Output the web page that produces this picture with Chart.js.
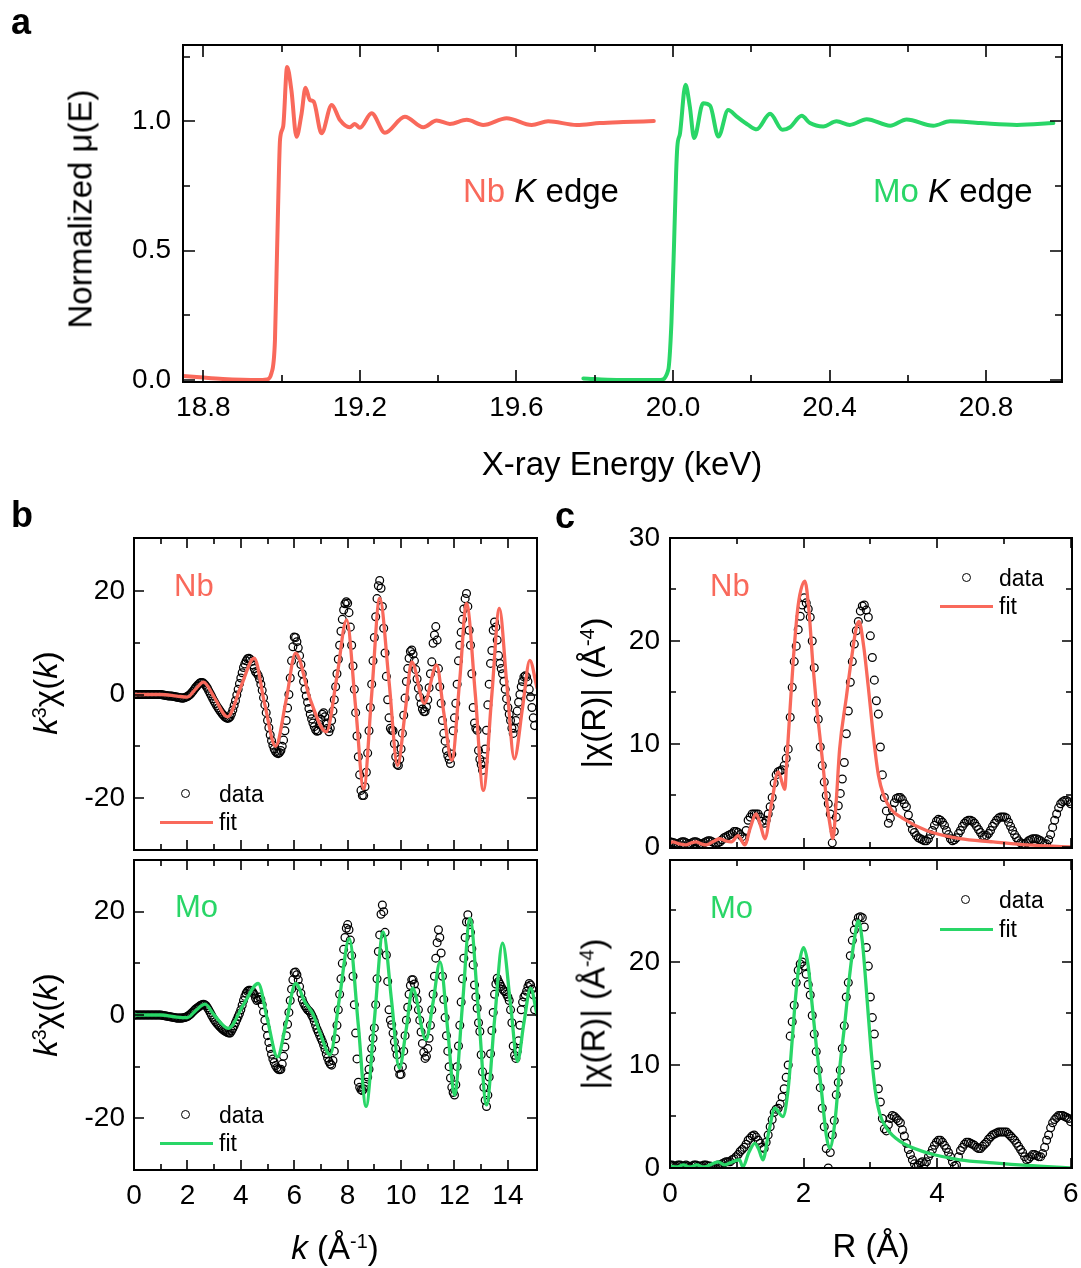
<!DOCTYPE html>
<html>
<head>
<meta charset="utf-8">
<script src="https://cdn.jsdelivr.net/npm/chart.js@4.4.1/dist/chart.umd.min.js"></script>
<style>
body { margin: 0; background: #fff; }
#fig { position: relative; width: 1081px; height: 1268px; overflow: hidden;
       font-family: "Liberation Sans", Arial, sans-serif; color: #000; }
canvas { position: absolute; }
.t { position: absolute; white-space: nowrap; line-height: 1; transform: translate(-50%, -50%); }
.l { position: absolute; white-space: nowrap; line-height: 1; transform: translate(0, -50%); }
.rot { transform: translate(-50%, -50%) rotate(-90deg); }
.pl { font-weight: bold; font-size: 36px; }
.ttl { font-size: 33px; }
.sp { font-size: 0.6em; position: relative; top: -0.55em; }
.el { font-size: 31px; }
.lg { font-size: 23px; }
.dot { position: absolute; width: 7px; height: 7px; border: 1.3px solid #000; border-radius: 50%; }
.ln { position: absolute; height: 3px; }
</style>
</head>
<body>
<div id="fig">
  <canvas id="cA" width="1081" height="500" style="left:0;top:0"></canvas>
  <canvas id="cB1" width="500" height="340" style="left:60px;top:520px"></canvas>
  <canvas id="cB2" width="500" height="418" style="left:60px;top:850px"></canvas>
  <canvas id="cC1" width="491" height="340" style="left:590px;top:520px"></canvas>
  <canvas id="cC2" width="491" height="418" style="left:590px;top:850px"></canvas>

  <!-- panel letters -->
  <div class="l pl" style="left:11px;top:22px">a</div>
  <div class="l pl" style="left:11px;top:515px">b</div>
  <div class="l pl" style="left:555px;top:516px">c</div>

  <!-- panel a texts -->
  <div class="t rot ttl" style="left:80px;top:209px">Normalized μ(E)</div>
  <div class="t ttl" style="left:622px;top:463px">X-ray Energy (keV)</div>
  <div class="l ttl" style="left:463px;top:190px"><span class="red">Nb</span> <i>K</i> edge</div>
  <div class="l ttl" style="left:873px;top:190px"><span class="green">Mo</span> <i>K</i> edge</div>

  <!-- panel b texts -->
  <div class="t rot ttl" style="left:45px;top:693px"><i>k</i><span class="sp">3</span>χ(<i>k</i>)</div>
  <div class="t rot ttl" style="left:45px;top:1015px"><i>k</i><span class="sp">3</span>χ(<i>k</i>)</div>
  <div class="t ttl" style="left:335px;top:1247px"><i>k</i> (Å<span class="sp">-1</span>)</div>
  <div class="l el red" style="left:174px;top:585px">Nb</div>
  <div class="l el green" style="left:175px;top:906px">Mo</div>
  <div class="dot" style="left:181px;top:789px"></div>
  <div class="l lg" style="left:219px;top:794px">data</div>
  <div class="ln redbg" style="left:160px;top:821px;width:53px"></div>
  <div class="l lg" style="left:219px;top:822px">fit</div>
  <div class="dot" style="left:181px;top:1110px"></div>
  <div class="l lg" style="left:219px;top:1115px">data</div>
  <div class="ln greenbg" style="left:160px;top:1142px;width:53px"></div>
  <div class="l lg" style="left:219px;top:1143px">fit</div>

  <!-- panel c texts -->
  <div class="t rot ttl" style="left:593px;top:693px">|χ(R)| (Å<span class="sp">-4</span>)</div>
  <div class="t rot ttl" style="left:593px;top:1014px">|χ(R)| (Å<span class="sp">-4</span>)</div>
  <div class="t ttl" style="left:871px;top:1245px">R (Å)</div>
  <div class="l el red" style="left:710px;top:585px">Nb</div>
  <div class="l el green" style="left:710px;top:907px">Mo</div>
  <div class="dot" style="left:962px;top:573px"></div>
  <div class="l lg" style="left:999px;top:578px">data</div>
  <div class="ln redbg" style="left:940px;top:605px;width:53px"></div>
  <div class="l lg" style="left:999px;top:606px">fit</div>
  <div class="dot" style="left:961px;top:895px"></div>
  <div class="l lg" style="left:999px;top:900px">data</div>
  <div class="ln greenbg" style="left:940px;top:928px;width:53px"></div>
  <div class="l lg" style="left:999px;top:929px">fit</div>
</div>

<script>
const RED = '#F9695B';
const GREEN = '#29D667';
document.querySelectorAll('.red').forEach(e => e.style.color = RED);
document.querySelectorAll('.green').forEach(e => e.style.color = GREEN);
document.querySelectorAll('.redbg').forEach(e => e.style.background = RED);
document.querySelectorAll('.greenbg').forEach(e => e.style.background = GREEN);

// ---- panel a: normalized absorption (energy in keV) ----
const nbE = [18.748, 18.80, 18.85, 18.90, 18.94, 18.962, 18.974, 18.983, 18.987, 18.991, 18.996, 19.004,
  19.014, 19.025, 19.038, 19.051, 19.061, 19.072, 19.082, 19.102, 19.128, 19.149, 19.174, 19.187, 19.200,
  19.230, 19.264, 19.315, 19.362, 19.396, 19.430, 19.473, 19.515, 19.575, 19.639, 19.681, 19.754, 19.813,
  19.873, 19.951];
const nbMu = [0.015, 0.009, 0.004, 0.001, 0.0, 0.002, 0.026, 0.155, 0.41, 0.67, 0.93, 0.98,
  1.21, 1.12, 0.94, 1.03, 1.13, 1.083, 1.076, 0.954, 1.063, 1.005, 0.977, 0.99, 0.975,
  1.031, 0.956, 1.018, 0.977, 1.003, 0.990, 1.006, 0.986, 1.012, 0.986, 1.0, 0.986, 0.993,
  0.997, 1.001];
const moE = [19.771, 19.856, 19.940, 19.967, 19.988, 19.996, 20.003, 20.008, 20.011, 20.018, 20.032, 20.043,
  20.054, 20.077, 20.095, 20.116, 20.141, 20.163, 20.192, 20.214, 20.248, 20.280, 20.299, 20.329, 20.350,
  20.384, 20.418, 20.452, 20.495, 20.555, 20.597, 20.665, 20.708, 20.785, 20.879, 20.972];
const moMu = [0.006, 0.0, 0.0, 0.0, 0.039, 0.22, 0.54, 0.80, 0.90, 0.954, 1.141, 1.057,
  0.935, 1.07, 1.06, 0.941, 1.044, 1.018, 0.986, 0.969, 1.029, 0.967, 0.977, 1.021, 0.993,
  0.98, 1.0, 0.986, 1.008, 0.983, 1.007, 0.983, 1.0, 0.993, 0.986, 0.993];

// ---- panel b: k^3 chi(k), data on a 0.05 grid ----
const kData = [
  0,0.05,0.1,0.15,0.2,0.25,0.3,0.35,0.4,0.45,0.5,0.55,0.6,0.65,0.7,0.75,0.8,0.85,0.9,0.95,
  1,1.05,1.1,1.15,1.2,1.25,1.3,1.35,1.4,1.45,1.5,1.55,1.6,1.65,1.7,1.75,1.8,1.85,1.9,1.95,
  2,2.05,2.1,2.15,2.2,2.25,2.3,2.35,2.4,2.45,2.5,2.55,2.6,2.65,2.7,2.75,2.8,2.85,2.9,2.95,
  3,3.05,3.1,3.15,3.2,3.25,3.3,3.35,3.4,3.45,3.5,3.55,3.6,3.65,3.7,3.75,3.8,3.85,3.9,3.95,
  4,4.05,4.1,4.15,4.2,4.25,4.3,4.35,4.4,4.45,4.5,4.55,4.6,4.65,4.7,4.75,4.8,4.85,4.9,4.95,
  5,5.05,5.1,5.15,5.2,5.25,5.3,5.35,5.4,5.45,5.5,5.55,5.6,5.65,5.7,5.75,5.8,5.85,5.9,5.95,
  6,6.05,6.1,6.15,6.2,6.25,6.3,6.35,6.4,6.45,6.5,6.55,6.6,6.65,6.7,6.75,6.8,6.85,6.9,6.95,
  7,7.05,7.1,7.15,7.2,7.25,7.3,7.35,7.4,7.45,7.5,7.55,7.6,7.65,7.7,7.75,7.8,7.85,7.9,7.95,
  8,8.05,8.1,8.15,8.2,8.25,8.3,8.35,8.4,8.45,8.5,8.55,8.6,8.65,8.7,8.75,8.8,8.85,8.9,8.95,
  9,9.05,9.1,9.15,9.2,9.25,9.3,9.35,9.4,9.45,9.5,9.55,9.6,9.65,9.7,9.75,9.8,9.85,9.9,9.95,
  10,10.05,10.1,10.15,10.2,10.25,10.3,10.35,10.4,10.45,10.5,10.55,10.6,10.65,10.7,10.75,10.8,10.85,10.9,10.95,
  11,11.05,11.1,11.15,11.2,11.25,11.3,11.35,11.4,11.45,11.5,11.55,11.6,11.65,11.7,11.75,11.8,11.85,11.9,11.95,
  12,12.05,12.1,12.15,12.2,12.25,12.3,12.35,12.4,12.45,12.5,12.55,12.6,12.65,12.7,12.75,12.8,12.85,12.9,12.95,
  13,13.05,13.1,13.15,13.2,13.25,13.3,13.35,13.4,13.45,13.5,13.55,13.6,13.65,13.7,13.75,13.8,13.85,13.9,13.95,
  14,14.05,14.1,14.15,14.2,14.25,14.3,14.35,14.4,14.45,14.5,14.55,14.6,14.65,14.7,14.75,14.8,14.85,14.9,14.95,
  15];
const nbChi = [
  0,0,0,0,0,0,0,0,0,0,0,0,0,0,0,0,0,0,0,0,
  0,-0.05,-0.1,-0.15,-0.2,-0.25,-0.3,-0.3,-0.3,-0.35,-0.4,-0.45,-0.5,-0.55,-0.6,-0.65,-0.7,-0.7,-0.6,-0.5,
  -0.4,-0.2,0.0,0.3,0.6,0.95,1.3,1.6,1.9,2.15,2.3,2.3,2.2,1.95,1.6,1.2,0.7,0.2,-0.3,-0.8,
  -1.3,-1.75,-2.2,-2.6,-3.0,-3.35,-3.7,-4.0,-4.3,-4.5,-4.6,-4.55,-4.3,-3.7,-3.0,-2.1,-1.2,-0.1,1.0,2.1,
  3.2,4.2,5.2,5.9,6.5,6.9,7.0,6.8,6.4,5.7,5.0,4.4,4.1,3.7,3.0,2.0,0.8,-0.6,-2.0,-3.5,
  -5.0,-6.4,-7.8,-8.9,-9.8,-10.5,-11.0,-11.3,-11.4,-11.2,-10.8,-10.0,-8.8,-7.0,-5.0,-2.6,0.0,3.2,6.5,9.2,
  11.1,11.0,10.2,9.0,7.5,5.8,4.0,2.5,1.0,-0.3,-1.5,-2.7,-3.8,-4.7,-5.5,-6.2,-6.8,-7.1,-7.0,-5.8,
  -4.8,-3.8,-3.5,-4.3,-5.5,-6.5,-7.2,-6.5,-5.0,-3.2,-1.0,1.5,4.0,6.8,9.5,12.2,14.5,16.3,17.5,17.9,
  17.6,15.8,13.0,9.5,5.5,1.0,-3.5,-8.0,-12.0,-15.5,-18.5,-19.5,-19.5,-17.8,-15.0,-11.3,-7.0,-2.5,2.0,6.5,
  11.0,15.0,18.5,21.0,22.0,20.5,17.0,12.8,8.0,3.5,-1.0,-4.5,-6.5,-6.9,-7.0,-9.5,-12.0,-13.5,-13.7,-12.5,
  -10.5,-7.5,-4.0,-0.7,2.5,5.0,7.0,8.3,8.6,7.8,6.5,4.8,3.0,1.2,-0.5,-1.8,-2.8,-3.3,-3.3,-2.4,
  -1.0,1.3,4.0,6.3,9.9,11.5,13.1,10.5,5.0,1.5,-1.7,-5.0,-7.5,-9.0,-10.8,-11.8,-12.5,-13.3,-11.5,-7.0,
  -4.5,-1.7,2.0,6.5,9.5,12.0,14.5,16.5,18.5,19.5,17.0,12.4,9.5,4.0,-2.5,-5.5,-6.5,-6.9,-10.8,-12.5,
  -13.5,-14.6,-13.0,-10.5,-6.9,-2.0,2.0,6.0,8.5,12.4,14.0,13.0,10.5,7.5,6.0,5.0,4.0,2.5,1.0,-0.8,
  -2.5,-3.8,-5.0,-6.5,-7.5,-6.5,-5.0,-3.2,-1.5,0.0,1.5,2.5,3.4,3.6,3.4,2.5,1.0,-0.5,-2.5,-4.5,
  -6.0];
const moChi = [
  0,0,0,0,0,0,0,0,0,0,0,0,0,0,0,0,0,0,0,0,
  0,-0.05,-0.1,-0.15,-0.2,-0.25,-0.3,-0.35,-0.4,-0.45,-0.5,-0.55,-0.6,-0.6,-0.6,-0.6,-0.6,-0.55,-0.5,-0.4,
  -0.3,-0.1,0.1,0.35,0.6,0.85,1.1,1.3,1.5,1.7,1.9,2.0,2.1,2.0,1.8,1.4,1.0,0.5,0.0,-0.45,
  -0.9,-1.25,-1.6,-1.9,-2.2,-2.45,-2.7,-2.9,-3.1,-3.25,-3.4,-3.5,-3.5,-3.1,-2.6,-2.1,-1.5,-0.9,-0.3,0.3,
  1.0,1.9,2.8,3.6,4.2,4.6,4.8,4.8,4.7,4.4,4.0,3.3,2.8,3.0,3.5,3.0,2.0,0.6,-1.0,-2.5,
  -4.0,-5.3,-6.5,-7.6,-8.5,-9.2,-9.8,-10.2,-10.5,-10.6,-10.5,-9.5,-8.0,-6.2,-4.0,-1.8,0.5,2.8,5.0,6.8,
  8.2,8.3,7.8,6.8,5.5,4.2,3.0,2.3,1.8,1.4,1.0,0.8,0.5,0.0,-0.5,-1.2,-2.0,-2.7,-3.3,-3.9,
  -4.5,-5.1,-5.8,-6.6,-7.5,-8.3,-9.0,-9.5,-9.7,-8.8,-7.0,-4.6,-2.0,1.0,4.0,7.0,10.0,12.7,15.0,16.8,
  17.5,16.5,14.5,11.5,7.5,2.0,-3.5,-8.5,-13.0,-14.0,-14.5,-14.6,-14.3,-13.8,-13.0,-12.0,-10.5,-8.5,-6.5,-4.5,
  -2.5,2.0,7.0,12.3,15.5,19.5,21.3,20.0,16.0,11.6,6.5,1.0,-1.0,-1.9,-3.5,-5.2,-6.5,-7.7,-10.3,-11.5,
  -11.5,-10.0,-7.0,-4.0,-1.0,1.5,4.0,5.7,6.8,6.8,6.0,4.6,3.0,1.0,-1.0,-3.3,-5.5,-7.2,-8.4,-8.0,
  -6.5,-4.5,-2.0,1.0,4.0,7.5,11.0,14.0,16.5,15.0,12.0,7.5,3.0,-0.5,-4.0,-7.0,-10.0,-12.2,-14.0,-15.0,
  -15.5,-13.5,-10.0,-6.0,-2.0,2.5,7.0,11.0,15.0,18.0,19.4,18.0,16.0,12.8,9.7,5.8,3.5,1.3,-1.5,-3.2,
  -7.7,-11.0,-14.0,-16.5,-17.7,-15.5,-12.0,-7.5,-3.0,0.5,4.0,6.0,7.1,6.5,6.0,5.5,5.0,4.7,4.5,4.0,
  3.5,2.8,1.0,-1.5,-6.0,-7.8,-8.4,-7.0,-5.0,-2.0,1.0,2.5,3.5,3.9,4.6,5.5,6.1,5.8,5.0,3.9,
  1.0];
const nbFitK = [0,1.0,1.6,2.0,2.3,2.6,3.0,3.5,4.0,4.5,4.9,5.3,5.7,6.05,6.6,7.2,7.6,7.96,8.3,8.6,8.9,9.2,
  9.55,9.87,10.15,10.4,10.87,11.33,11.6,11.9,12.2,12.45,12.78,13.08,13.4,13.68,13.96,14.24,14.55,14.82,15.09];
const nbFitChi = [0,0,-0.3,-0.5,1.0,2.4,-0.5,-4.3,1.5,7.0,-2.0,-10.0,-1.0,8.0,-1.0,-7.2,3.5,14.4,-2.5,-18.2,0,18.6,
  2.5,-13.7,-3.5,6.3,-1.7,5.7,-3.5,-12.7,3.0,17.6,0,-18.5,0,16.6,2.0,-12.4,-2.5,6.6,1.3];
const moFitK = [0,1.0,1.6,2.0,2.3,2.66,3.0,3.53,4.1,4.65,5.0,5.37,5.7,6.05,6.4,6.7,6.95,7.34,7.7,8.06,8.4,8.69,
  9.0,9.33,9.65,9.93,10.2,10.43,10.93,11.2,11.46,11.75,12.0,12.3,12.58,12.9,13.2,13.5,13.8,14.1,14.36,14.6,14.85,15.09];
const moFitChi = [0,0,-0.4,-0.5,0.8,2.1,0.0,-2.6,2.0,6.1,-1.0,-8.1,-1.5,6.1,2.5,0.2,-3.2,-7.7,3.5,14.8,-2.0,-17.7,
  -1.0,16.1,2.5,-10.3,-2.5,5.2,-4.8,2.5,10.3,-3.0,-15.5,2.0,18.7,0.5,-17.4,-1.0,13.9,2.0,-9.0,-1.5,5.2,0.0];

// ---- panel c: |chi(R)|, data on a 0.03 grid ----
const rData = [
  0,0.03,0.06,0.09,0.12,0.15,0.18,0.21,0.24,0.27, 0.3,0.33,0.36,0.39,0.42,0.45,0.48,0.51,0.54,0.57,
  0.6,0.63,0.66,0.69,0.72,0.75,0.78,0.81,0.84,0.87, 0.9,0.93,0.96,0.99,1.02,1.05,1.08,1.11,1.14,1.17,
  1.2,1.23,1.26,1.29,1.32,1.35,1.38,1.41,1.44,1.47, 1.5,1.53,1.56,1.59,1.62,1.65,1.68,1.71,1.74,1.77,
  1.8,1.83,1.86,1.89,1.92,1.95,1.98,2.01,2.04,2.07, 2.1,2.13,2.16,2.19,2.22,2.25,2.28,2.31,2.34,2.37,
  2.4,2.43,2.46,2.49,2.52,2.55,2.58,2.61,2.64,2.67, 2.7,2.73,2.76,2.79,2.82,2.85,2.88,2.91,2.94,2.97,
  3,3.03,3.06,3.09,3.12,3.15,3.18,3.21,3.24,3.27, 3.3,3.33,3.36,3.39,3.42,3.45,3.48,3.51,3.54,3.57,
  3.6,3.63,3.66,3.69,3.72,3.75,3.78,3.81,3.84,3.87, 3.9,3.93,3.96,3.99,4.02,4.05,4.08,4.11,4.14,4.17,
  4.2,4.23,4.26,4.29,4.32,4.35,4.38,4.41,4.44,4.47, 4.5,4.53,4.56,4.59,4.62,4.65,4.68,4.71,4.74,4.77,
  4.8,4.83,4.86,4.89,4.92,4.95,4.98,5.01,5.04,5.07, 5.1,5.13,5.16,5.19,5.22,5.25,5.28,5.31,5.34,5.37,
  5.4,5.43,5.46,5.49,5.52,5.55,5.58,5.61,5.64,5.67, 5.7,5.73,5.76,5.79,5.82,5.85,5.88,5.91,5.94,5.97,
  6];
const nbChiR = [
  0.5,0.45,0.4,0.3,0.3,0.4,0.5,0.5,0.4,0.3, 0.3,0.4,0.5,0.5,0.4,0.3,0.3,0.4,0.5,0.6,
  0.6,0.5,0.4,0.3,0.4,0.5,0.7,0.9,1.0,1.1, 1.2,1.3,1.5,1.5,1.4,1.2,1.0,0.8,1.6,2.6,
  2.9,3.2,3.2,3.2,3.2,2.9,2.5,2.3,2.6,3.2, 3.9,4.8,6.2,7.0,7.3,7.4,7.5,7.9,8.6,9.5,
  12.6,15.5,18.0,19.5,21.1,22.4,23.5,24.2,23.7,23.1, 22.3,20.0,17.4,14.0,12.4,9.7,7.9,6.3,5.0,4.2,
  3.2,0.4,1.5,2.9,4.0,5.2,6.6,8.2,11.0,13.2, 16.0,18.0,19.7,21.0,21.9,22.9,23.4,23.5,23.0,22.3,
  20.5,18.4,16.2,14.2,12.9,9.7,7.0,4.8,3.5,2.3, 2.8,3.6,4.3,4.7,4.8,4.8,4.6,4.2,3.9,3.1,
  2.3,1.7,1.4,1.1,0.9,0.8,0.7,0.6,0.6,0.8, 1.2,1.6,2.1,2.5,2.7,2.6,2.4,2.1,1.6,1.2,
  0.8,0.6,0.7,0.9,1.3,1.6,2.0,2.3,2.5,2.6, 2.6,2.5,2.3,2.0,1.7,1.4,1.1,1.0,1.1,1.3,
  1.6,2.0,2.3,2.6,2.8,2.9,2.9,2.9,2.8,2.4, 2.0,1.6,1.2,0.9,0.6,0.4,0.3,0.3,0.4,0.6,
  0.7,0.8,0.8,0.8,0.7,0.6,0.4,0.3,0.3,0.7, 1.2,1.9,2.6,3.2,3.8,4.2,4.4,4.5,4.5,4.4,
  4.2];
const moChiR = [
  0.3,0.3,0.2,0.2,0.3,0.3,0.2,0.2,0.3,0.2, 0.1,0.2,0.3,0.3,0.2,0.2,0.2,0.3,0.3,0.2,
  0.2,0.1,0.1,0.2,0.3,0.3,0.4,0.5,0.6,0.6, 0.6,0.8,0.9,1.1,1.3,1.6,1.8,2.0,2.3,2.7,
  2.9,3.1,3.2,3.0,2.7,2.4,2.0,1.9,2.5,3.2, 4.0,4.7,5.4,5.7,5.8,6.2,6.9,7.7,8.8,10.0,
  12.8,14.2,15.8,18.0,19.2,19.8,20.0,19.6,18.8,17.8, 16.8,14.8,13.0,11.3,9.5,7.8,5.8,4.0,1.9,0.0,
  1.5,3.2,4.6,7.1,8.3,9.5,11.6,13.8,16.6,18.0, 20.6,22.1,23.1,23.8,24.3,24.4,24.3,23.4,21.4,19.6,
  16.6,14.6,13.0,10.0,7.7,6.4,4.8,3.8,3.6,4.2, 4.8,5.1,5.0,4.8,4.6,4.4,3.7,3.1,2.4,1.8,
  1.3,0.8,0.4,0.1,0.3,0.5,0.6,0.4,0.6,1.1, 1.4,1.8,2.2,2.5,2.7,2.7,2.5,2.2,1.9,1.5,
  1.1,0.6,0.2,0.3,1.1,1.7,2.0,2.3,2.5,2.5, 2.4,2.3,2.2,2.0,1.9,1.9,2.1,2.3,2.5,2.8,
  3.0,3.2,3.3,3.4,3.5,3.5,3.5,3.5,3.5,3.3, 3.1,2.9,2.7,2.4,2.1,1.8,1.5,1.1,0.8,0.9,
  1.1,1.3,1.3,1.2,1.1,1.1,1.4,2.0,2.7,3.2, 3.9,4.4,4.7,4.9,5.1,5.1,5.1,5.0,4.9,4.8,
  4.5];
const nbFitR = [0,0.04,0.14,0.24,0.32,0.39,0.47,0.54,0.64,0.74,0.83,0.92,1.02,1.12,1.2,1.29,1.36,1.42,1.52,1.62,
  1.72,1.745,1.79,1.85,1.92,2.02,2.08,2.14,2.19,2.24,2.29,2.34,2.4,2.44,2.49,2.54,2.64,2.72,2.79,2.83,
  2.9,2.97,3.05,3.12,3.2,3.32,3.48,3.84,4.34,4.84,5.34,6.02];
const nbFitVal = [0.4,0.5,0.3,0.2,0.4,0.5,0.3,0.2,0.5,0.8,0.6,0.5,1.1,0.2,1.8,3.2,2.0,0.8,4.2,7.3,
  5.6,8.0,12.6,18.5,23.5,25.8,23.0,17.7,14.0,11.0,8.0,4.8,2.0,0.8,4.5,9.5,14.5,18.4,21.3,21.9,
  19.5,15.5,10.5,7.0,5.0,3.6,2.8,1.6,0.8,0.5,0.2,0.0];
const moFitR = [0,0.1,0.2,0.3,0.4,0.5,0.6,0.72,0.82,0.9,1.04,1.09,1.18,1.27,1.33,1.39,1.48,1.57,1.69,1.77,
  1.82,1.87,1.93,2.0,2.07,2.12,2.19,2.27,2.34,2.39,2.47,2.54,2.62,2.69,2.77,2.82,2.88,2.95,3.01,3.07,
  3.14,3.24,3.44,3.84,4.34,4.84,5.34,6.02];
const moFitVal = [0.2,0.1,0.3,0.1,0.3,0.1,0.3,0.6,0.3,0.5,0.8,0.1,1.5,2.4,1.8,0.8,3.5,5.8,5.0,7.7,
  11.6,15.8,19.6,21.4,19.6,16.4,11.9,7.4,3.2,1.9,4.5,9.6,14.2,18.7,22.6,24.0,22.0,16.5,11.5,7.7,
  5.3,3.9,2.6,1.5,0.8,0.5,0.25,0.0];

// tick positions
const aXMajor = [18.8, 19.2, 19.6, 20.0, 20.4, 20.8], aXMinor = [19.0, 19.4, 19.8, 20.2, 20.6];
const aYMajor = [0, 0.5, 1.0], aYMinor = [0.25, 0.75, 1.25];
const bXMajor = [0, 2, 4, 6, 8, 10, 12, 14], bXMinor = [1, 3, 5, 7, 9, 11, 13];
const bYMajor = [-20, 0, 20], bYMinor = [-10, 10];
const cXMajor = [0, 2, 4, 6], cXMinor = [1, 3, 5];
const cYMajor = [0, 10, 20, 30], cYMajor2 = [0, 10, 20], cYMinor = [5, 15, 25];

Chart.defaults.font.family = '"Liberation Sans", Arial, sans-serif';
Chart.defaults.color = '#000';

const xy = (xs, ys) => xs.map((v, i) => ({x: v, y: ys[i]}));

// box frame with inward ticks on all four sides
const frameTicks = {
  id: 'frameTicks',
  afterDatasetsDraw(chart, args, o) {
    const {ctx, chartArea: a, scales: {x, y}} = chart;
    ctx.save();
    ctx.strokeStyle = '#000';
    ctx.lineWidth = 1.6;
    ctx.beginPath();
    const xt = (vals, len) => vals.forEach(v => {
      const p = Math.round(x.getPixelForValue(v));
      ctx.moveTo(p, a.bottom); ctx.lineTo(p, a.bottom - len);
      ctx.moveTo(p, a.top); ctx.lineTo(p, a.top + len);
    });
    const yt = (vals, len) => vals.forEach(v => {
      const p = Math.round(y.getPixelForValue(v));
      ctx.moveTo(a.left, p); ctx.lineTo(a.left + len, p);
      ctx.moveTo(a.right, p); ctx.lineTo(a.right - len, p);
    });
    xt(o.xMajor, o.major); xt(o.xMinor, o.minor);
    yt(o.yMajor, o.major); yt(o.yMinor, o.minor);
    ctx.stroke();
    ctx.lineWidth = 2;
    ctx.strokeRect(a.left, a.top, a.right - a.left, a.bottom - a.top);
    ctx.restore();
  }
};

function panel(id, p) {
  return new Chart(document.getElementById(id), {
    type: 'scatter',
    data: {datasets: p.datasets},
    options: {
      responsive: false, animation: false, devicePixelRatio: 1, events: [],
      layout: {padding: p.pad},
      plugins: {legend: {display: false}, tooltip: {enabled: false}, frameTicks: p.ticks},
      scales: {
        x: {
          type: 'linear', min: p.xr[0], max: p.xr[1],
          grid: {display: false, drawTicks: false}, border: {display: false},
          ticks: {display: p.xLabels, padding: 9, font: {size: 28}, maxRotation: 0, autoSkip: false, callback: p.xFmt},
          afterBuildTicks: s => { s.ticks = p.ticks.xMajor.map(v => ({value: v})); },
          afterFit: s => { s.height = p.xH; s.paddingLeft = 0; s.paddingRight = 0; }
        },
        y: {
          type: 'linear', min: p.yr[0], max: p.yr[1],
          grid: {display: false, drawTicks: false}, border: {display: false},
          ticks: {padding: p.yPad, font: {size: 28}, autoSkip: false, callback: p.yFmt},
          afterBuildTicks: s => { s.ticks = p.yLab.map(v => ({value: v})); },
          afterFit: s => { s.width = p.yW; s.paddingTop = 0; s.paddingBottom = 0; }
        }
      }
    },
    plugins: [frameTicks]
  });
}

const lineSet = (data, color, w) => ({
  data, showLine: true, borderColor: color, borderWidth: w, pointRadius: 0,
  cubicInterpolationMode: 'monotone', borderCapStyle: 'round', borderJoinStyle: 'round', order: 1
});
const dotSet = data => ({
  data, showLine: false, pointRadius: 3.9, pointBorderWidth: 1.25, pointBorderColor: '#000',
  pointBackgroundColor: 'rgba(0,0,0,0)', order: 2
});
const fmt1 = v => v.toFixed(1);
const fmt0 = v => String(v);

panel('cA', {
  datasets: [lineSet(xy(nbE, nbMu), RED, 4), lineSet(xy(moE, moMu), GREEN, 4)],
  pad: {left: 0, top: 45, right: 19, bottom: 0}, xH: 118, yW: 183, yPad: 12,
  xr: [18.748, 20.994], yr: [-0.008, 1.295], xLabels: true, xFmt: fmt1, yFmt: fmt1, yLab: aYMajor,
  ticks: {xMajor: aXMajor, xMinor: aXMinor, yMajor: aYMajor, yMinor: aYMinor, major: 12, minor: 7}
});
panel('cB1', {
  datasets: [lineSet(xy(nbFitK, nbFitChi), RED, 3.3), dotSet(xy(kData, nbChi))],
  pad: {left: 0, top: 18, right: 23, bottom: 0}, xH: 10, yW: 74, yPad: 9,
  xr: [0, 15.09], yr: [-30, 30.2], xLabels: false, xFmt: fmt0, yFmt: fmt0, yLab: bYMajor,
  ticks: {xMajor: bXMajor, xMinor: bXMinor, yMajor: bYMajor, yMinor: bYMinor, major: 10, minor: 6}
});
panel('cB2', {
  datasets: [lineSet(xy(moFitK, moFitChi), GREEN, 3.3), dotSet(xy(kData, moChi))],
  pad: {left: 0, top: 10, right: 23, bottom: 0}, xH: 98, yW: 74, yPad: 9,
  xr: [0, 15.09], yr: [-30, 30], xLabels: true, xFmt: fmt0, yFmt: fmt0, yLab: bYMajor,
  ticks: {xMajor: bXMajor, xMinor: bXMinor, yMajor: bYMajor, yMinor: bYMinor, major: 10, minor: 6}
});
panel('cC1', {
  datasets: [lineSet(xy(nbFitR, nbFitVal), RED, 3.3), dotSet(xy(rData, nbChiR))],
  pad: {left: 0, top: 18, right: 9, bottom: 0}, xH: 12, yW: 80, yPad: 10,
  xr: [0, 6.02], yr: [-0.1, 30], xLabels: false, xFmt: fmt0, yFmt: fmt0, yLab: cYMajor,
  ticks: {xMajor: cXMajor, xMinor: cXMinor, yMajor: cYMajor, yMinor: cYMinor, major: 10, minor: 6}
});
panel('cC2', {
  datasets: [lineSet(xy(moFitR, moFitVal), GREEN, 3.3), dotSet(xy(rData, moChiR))],
  pad: {left: 0, top: 10, right: 9, bottom: 0}, xH: 100, yW: 80, yPad: 10,
  xr: [0, 6.02], yr: [0, 29.9], xLabels: true, xFmt: fmt0, yFmt: fmt0, yLab: cYMajor2,
  ticks: {xMajor: cXMajor, xMinor: cXMinor, yMajor: cYMajor2, yMinor: cYMinor, major: 10, minor: 6}
});
</script>
</body>
</html>
